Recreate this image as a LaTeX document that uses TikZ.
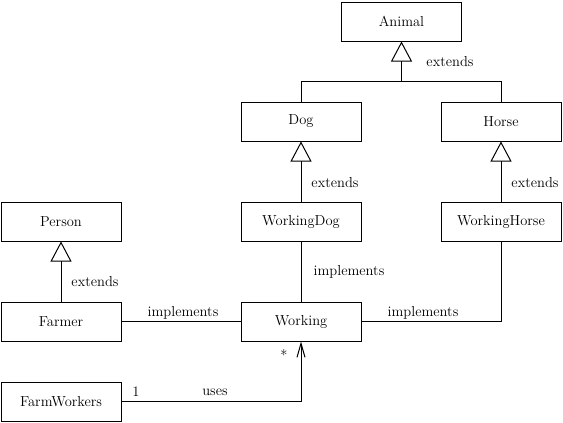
\documentclass[tikz,border=0pt]{standalone}
\usetikzlibrary{arrows.meta}
\begin{document}
\begin{tikzpicture}[x=1pt,y=-1pt,line width=1pt,
  cls/.style={draw,rectangle,minimum width=120pt,minimum height=39pt,inner sep=0pt,font=\fontsize{14.5}{17}\selectfont},
  lbl/.style={inner sep=0pt,font=\fontsize{14.5}{17}\selectfont},
  gen/.style={-{Triangle[open,width=21pt,length=20pt,line width=1pt]}},
  use/.style={-{Straight Barb[length=14pt,width=8pt,line width=1pt]}}]
\useasboundingbox (0,0) rectangle (563,423);
\node[cls] (animal) at (401.5,21.5) {Animal};
\node[cls] (dog) at (301,121.5) {Dog};
\node[cls] (horse) at (501,121.5) {Horse};
\node[cls] (wdog) at (301,221.5) {WorkingDog};
\node[cls] (whorse) at (501,221.5) {WorkingHorse};
\node[cls] (person) at (61,221.5) {Person};
\node[cls] (farmer) at (61,321.5) {Farmer};
\node[cls] (working) at (301,321.5) {Working};
\node[cls] (fw) at (61,401.5) {FarmWorkers};
\coordinate (junc) at (401.5,81);
\draw (dog.north) |- (junc);
\draw (horse.north) |- (junc);
\draw[gen] (junc) -- (animal.south);
\draw[gen] (wdog.north) -- (dog.south);
\draw[gen] (whorse.north) -- (horse.south);
\draw[gen] (farmer.north) -- (person.south);
\draw (wdog.south) -- (working.north);
\draw (farmer.east) -- (working.west);
\draw (working.east) -| (whorse.south);
\draw[use] (fw.east) -| (working.south);
\node[lbl] (l1) at (450,62) {extends};
\node[lbl] (l2) at (335,183) {extends};
\node[lbl] (l3) at (535,183) {extends};
\node[lbl] (l4) at (95,282) {extends};
\node[lbl] (l5) at (349,272) {implements};
\node[lbl] (l6) at (183,313) {implements};
\node[lbl] (l7) at (423,313) {implements};
\node[lbl] (l8) at (136,392) {1};
\node[lbl] (l9) at (215,392) {uses};
\node[lbl] (l10) at (284,355) {*};
\end{tikzpicture}
\end{document}
